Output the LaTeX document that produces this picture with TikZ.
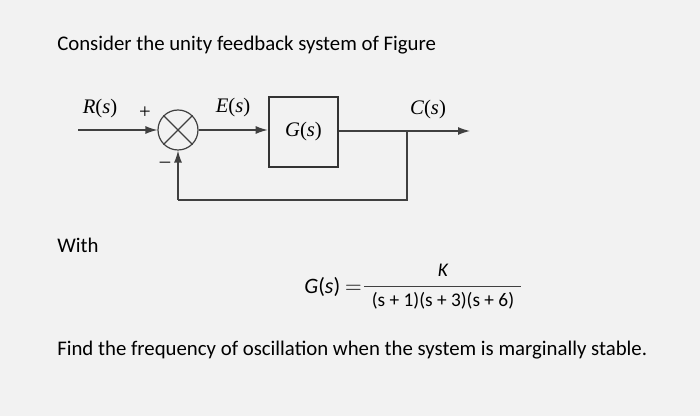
\documentclass[tikz,border=0pt]{standalone}
\usepackage{fontspec}
\setmainfont{Carlito}
\newfontfamily\serif{Liberation Serif}
\usetikzlibrary{arrows.meta}
\newcommand{\fn}[1]{{\serif\textit{#1}(\textit{s})}}
\begin{document}
\begin{tikzpicture}[x=0.75pt,y=-0.75pt,
  lbl/.style={font=\serif\fontsize{15.5}{17}\selectfont, inner sep=0pt},
  txt/.style={font=\fontsize{15.6}{18}\selectfont, inner sep=0pt, anchor=west},
  sig/.style={draw=black!75, line width=0.9pt, -{Latex[length=9pt,width=6pt]}},
  ln/.style={draw=black!75, line width=0.9pt}]
\fill[black!5] (0,0) rectangle (700,416);
\useasboundingbox (0,0) rectangle (700,416);
\node[txt] (t1) at (57,45) {Consider the unity feedback system of Figure};
% diagram
\coordinate (in) at (78,130);
\node[circle, draw=black!75, line width=0.9pt, minimum size=40pt*0.75, inner sep=0pt] (sum) at (178,130) {};
\draw[ln] (sum.45) -- (sum.225) (sum.135) -- (sum.315);
\node[draw=black!80, line width=2pt, minimum width=69pt*0.75, minimum height=70pt*0.75, lbl] (g) at (303.5,132) {\fn{G}};
\coordinate (br) at (407,131);
\coordinate (out) at (470,131);
\coordinate (bl) at (178,200);
\coordinate (brb) at (407,200);
\draw[sig] (in) -- (sum);
\draw[sig] (sum) -- (g.west|-sum);
\draw[ln] (g.east|-br) -- (br);
\draw[sig] (br) -- (out);
\draw[ln] (br) -- (brb) -- (bl);
\draw[sig] (bl) -- (sum);
\node[lbl] (r) at (100,109) {\fn{R}};
\node[lbl] (p) at (145,113) {+};
\node[lbl] (m) at (165,165) {–};
\node[lbl] (e) at (233,108) {\fn{E}};
\node[lbl] (c) at (428,110) {\fn{C}};
% text
\node[txt] (w) at (57,245) {With};
\node[lbl, anchor=east, font=\fontsize{16.5}{18}\selectfont] (gs) at (362,287) {\textit{G}(\textit{s}) $=$};
\draw[black!75, line width=0.7pt] (364,286) -- (521,286);
\node[txt, anchor=center, font=\itshape\fontsize{14.5}{16}\selectfont] (k) at (443,270) {K};
\node[txt, anchor=center, font=\fontsize{14.5}{16}\selectfont] (den) at (443,301) {(s + 1)(s + 3)(s + 6)};
\node[txt] (t2) at (57,350) {Find the frequency of oscillation when the system is marginally stable.};
\end{tikzpicture}
\end{document}
